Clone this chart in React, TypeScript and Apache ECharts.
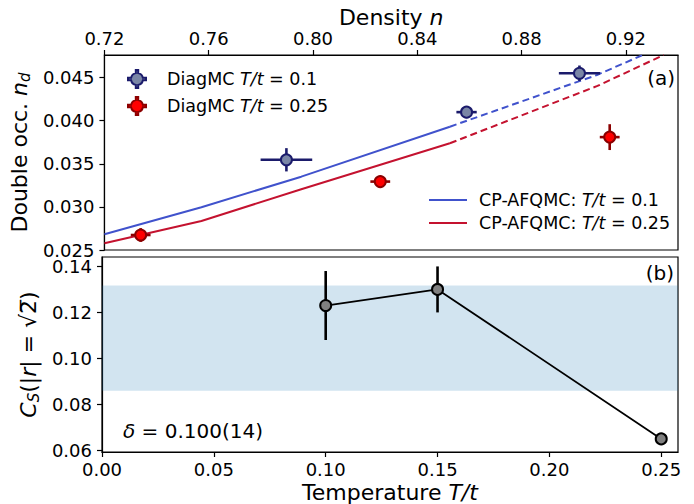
import React, { useEffect, useRef } from 'react';
import * as echarts from 'echarts';

// ---------- data ----------
const densityTicks = [0.72, 0.76, 0.8, 0.84, 0.88, 0.92];
const ndTicks = [0.025, 0.03, 0.035, 0.04, 0.045];
const tempTicks = [0.0, 0.05, 0.1, 0.15, 0.2, 0.25];
const csTicks = [0.06, 0.08, 0.1, 0.12, 0.14];

// DiagMC T/t = 0.1
const diagLowN = [0.7898, 0.8589, 0.9022];
const diagLowNd = [0.03547, 0.041, 0.04551];
const diagLowNErr = [0.0099, 0.0039, 0.0079];
const diagLowNdErr = [0.00135, 0.0007, 0.0009];

// DiagMC T/t = 0.25
const diagHighN = [0.7339, 0.8258, 0.9138];
const diagHighNd = [0.02674, 0.03294, 0.0381];
const diagHighNErr = [0.0038, 0.0038, 0.0038];
const diagHighNdErr = [0.0008, 0.00067, 0.0015];

// CP-AFQMC T/t = 0.1
const cpLowSolidN = [0.72, 0.7572, 0.7955, 0.8525];
const cpLowSolidNd = [0.02682, 0.02996, 0.03351, 0.03931];
const cpLowDashN = [0.8525, 0.9089, 0.9265];
const cpLowDashNd = [0.03931, 0.04531, 0.04763];

// CP-AFQMC T/t = 0.25
const cpHighSolidN = [0.72, 0.7572, 0.7955, 0.8525];
const cpHighSolidNd = [0.02578, 0.02837, 0.03205, 0.03739];
const cpHighDashN = [0.8525, 0.9091, 0.9345];
const cpHighDashNd = [0.03739, 0.04404, 0.04763];

// panel (b)
const temps = [0.1, 0.15, 0.25];
const csValues = [0.123, 0.13, 0.065];
const csErr = [0.015, 0.01, 0.0008];
const bandRange = [0.0859, 0.1317];

// ---------- styles ----------
const FF = 'DejaVu Sans';
const NAVY = '#1b1b6b';
const SLATE = '#7a86a6';
const DARKRED = '#8b0000';
const RED = '#ff0000';
const CP_BLUE = '#4052cc';
const CP_RED = '#c4122f';

const markerIcon =
  'path://M7 3.101 L7 0.5 L9 0.5 L9 3.101 A5 5 0 0 1 12.899 7 L15.5 7 L15.5 9 L12.899 9 A5 5 0 0 1 9 12.899 L9 15.5 L7 15.5 L7 12.899 A5 5 0 0 1 3.101 9 L0.5 9 L0.5 7 L3.101 7 A5 5 0 0 1 7 3.101 Z';
const lineIcon = 'path://M0 0 H38 V2 H0 Z';

function rich(size: number, lh: number, padLeft = 0) {
  const base = { fontFamily: FF, fontSize: size, color: '#000', fontWeight: 'normal', lineHeight: lh };
  return {
    r: { ...base },
    f: { ...base, padding: [0, 0, 0, padLeft] },
    i: { ...base, fontStyle: 'italic' },
    s: {
      fontFamily: FF,
      fontSize: Math.round(size * 0.7),
      color: '#000',
      fontWeight: 'normal',
      fontStyle: 'italic',
      lineHeight: Math.round(size * 0.7),
      verticalAlign: 'bottom',
    },
  };
}

function zip(a: number[], b: number[], c?: number[], d?: number[]) {
  return a.map((v, k) => (c && d ? [v, b[k], c[k], d[k]] : [v, b[k]]));
}

function errRender(color: string, width: number) {
  return (_params: any, api: any) => {
    const x = api.value(0);
    const y = api.value(1);
    const xe = api.value(2);
    const ye = api.value(3);
    const l = api.coord([x - xe, y]);
    const r = api.coord([x + xe, y]);
    const t = api.coord([x, y + ye]);
    const b = api.coord([x, y - ye]);
    return {
      type: 'group',
      children: [
        { type: 'line', shape: { x1: l[0], y1: l[1], x2: r[0], y2: r[1] }, style: { stroke: color, lineWidth: width } },
        { type: 'line', shape: { x1: t[0], y1: t[1], x2: b[0], y2: b[1] }, style: { stroke: color, lineWidth: width } },
      ],
    };
  };
}

const axisCommon = {
  axisLine: { show: true, lineStyle: { color: '#000', width: 1.2 } },
  splitLine: { show: false },
  nameLocation: 'middle' as const,
};

export default function App() {
  const ref = useRef<HTMLDivElement>(null);
  useEffect(() => {
    if (!ref.current) return;
    const chart = echarts.init(ref.current, undefined, { renderer: 'svg' });
    const labelStyle = { fontFamily: FF, fontSize: 18, color: '#000' };
    const tick = (vals: number[]) => ({ show: true, length: 5, lineStyle: { color: '#000', width: 1.2 }, customValues: vals });
    const option: any = {
      animation: false,
      backgroundColor: '#fff',
      title: [
        { text: '(a)', right: 19, top: 68, padding: 0, textStyle: { fontFamily: FF, fontSize: 20, fontWeight: 'normal', color: '#000' } },
        { text: '(b)', right: 20, top: 263, padding: 0, textStyle: { fontFamily: FF, fontSize: 20, fontWeight: 'normal', color: '#000' } },
        {
          text: '{i|δ}{r| = 0.100(14)}',
          left: 123,
          top: 419,
          padding: 0,
          textStyle: { fontWeight: 'normal', rich: rich(20, 24) },
        },
      ],
      grid: [
        { left: 102, right: 16, top: 55, height: 195, show: true, borderColor: '#000', borderWidth: 1.2, backgroundColor: 'transparent' },
        { left: 102, right: 16, top: 257, height: 195, show: true, borderColor: '#000', borderWidth: 1.2, backgroundColor: 'transparent' },
      ],
      legend: [
        {
          left: 127,
          top: 69,
          padding: 0,
          orient: 'vertical',
          itemWidth: 18,
          itemHeight: 18,
          itemGap: 7,
          data: [
            { name: 'DiagMC T/t = 0.1', icon: markerIcon },
            { name: 'DiagMC T/t = 0.25', icon: markerIcon },
          ],
          formatter: (n: string) => '{f|DiagMC }{i|T/t}{r| = ' + n.split('= ')[1] + '}',
          textStyle: { rich: rich(17.5, 21, 16) },
        },
        {
          left: 429,
          top: 191,
          padding: 0,
          orient: 'vertical',
          itemWidth: 38,
          itemHeight: 14,
          itemGap: 5,
          symbolKeepAspect: true,
          itemStyle: { borderWidth: 0 },
          data: [
            { name: 'CP-AFQMC: T/t = 0.1', icon: lineIcon },
            { name: 'CP-AFQMC: T/t = 0.25', icon: lineIcon },
          ],
          formatter: (n: string) => '{f|CP-AFQMC: }{i|T/t}{r| = ' + n.split('= ')[1] + '}',
          textStyle: { rich: rich(17.5, 21, 7) },
        },
      ],
      xAxis: [
        {
          ...axisCommon,
          type: 'value',
          gridIndex: 0,
          position: 'top',
          min: 0.72,
          max: 0.94,
          name: '{r|Density }{i|n}',
          nameGap: 24,
          nameTextStyle: { rich: rich(22, 26) },
          axisTick: tick(densityTicks),
          axisLabel: { ...labelStyle, margin: 8, customValues: densityTicks, formatter: (v: number) => v.toFixed(2) },
        },
        {
          ...axisCommon,
          type: 'value',
          gridIndex: 1,
          position: 'bottom',
          min: 0,
          max: 0.2575,
          name: '{r|Temperature }{i|T/t}',
          nameGap: 27,
          nameTextStyle: { rich: rich(22, 26) },
          axisTick: tick(tempTicks),
          axisLabel: { ...labelStyle, margin: 8, customValues: tempTicks, formatter: (v: number) => v.toFixed(2) },
        },
      ],
      yAxis: [
        {
          ...axisCommon,
          type: 'value',
          gridIndex: 0,
          min: 0.025,
          max: 0.04763,
          name: '{r|Double occ. }{i|n}{s|d}',
          nameGap: 64,
          nameTextStyle: { rich: rich(22, 26) },
          axisTick: tick(ndTicks),
          axisLabel: { ...labelStyle, lineHeight: 14, margin: 10, customValues: ndTicks, formatter: (v: number) => v.toFixed(3) },
        },
        {
          ...axisCommon,
          type: 'value',
          gridIndex: 1,
          min: 0.0593,
          max: 0.1441,
          name: '{i|C}{s|S}{r|(|}{i|r}{r|| = √2\u0305)}',
          nameGap: 56,
          nameTextStyle: { rich: rich(22, 26) },
          axisTick: tick(csTicks),
          axisLabel: { ...labelStyle, lineHeight: 14, margin: 10, customValues: csTicks, formatter: (v: number) => v.toFixed(2) },
        },
      ],
      series: [
        // CP-AFQMC lines
        {
          name: 'CP-AFQMC: T/t = 0.1', type: 'line', xAxisIndex: 0, yAxisIndex: 0, symbol: 'none', z: 2,
          data: zip(cpLowSolidN, cpLowSolidNd), lineStyle: { color: CP_BLUE, width: 2 }, itemStyle: { color: CP_BLUE },
        },
        {
          name: 'cp01dash', type: 'line', xAxisIndex: 0, yAxisIndex: 0, symbol: 'none', z: 2,
          data: zip(cpLowDashN, cpLowDashNd), lineStyle: { color: CP_BLUE, width: 2, type: [7, 4] }, itemStyle: { color: CP_BLUE },
        },
        {
          name: 'CP-AFQMC: T/t = 0.25', type: 'line', xAxisIndex: 0, yAxisIndex: 0, symbol: 'none', z: 2,
          data: zip(cpHighSolidN, cpHighSolidNd), lineStyle: { color: CP_RED, width: 2 }, itemStyle: { color: CP_RED },
        },
        {
          name: 'cp025dash', type: 'line', xAxisIndex: 0, yAxisIndex: 0, symbol: 'none', z: 2,
          data: zip(cpHighDashN, cpHighDashNd), lineStyle: { color: CP_RED, width: 2, type: [7, 4] }, itemStyle: { color: CP_RED },
        },
        // DiagMC error bars
        {
          name: 'errLow', type: 'custom', xAxisIndex: 0, yAxisIndex: 0, z: 3, silent: true,
          renderItem: errRender(NAVY, 2.6), encode: { x: 0, y: 1 },
          data: zip(diagLowN, diagLowNd, diagLowNErr, diagLowNdErr),
        },
        {
          name: 'errHigh', type: 'custom', xAxisIndex: 0, yAxisIndex: 0, z: 3, silent: true,
          renderItem: errRender(DARKRED, 2.6), encode: { x: 0, y: 1 },
          data: zip(diagHighN, diagHighNd, diagHighNErr, diagHighNdErr),
        },
        {
          name: 'DiagMC T/t = 0.1', type: 'scatter', xAxisIndex: 0, yAxisIndex: 0, z: 4,
          symbol: 'circle', symbolSize: 11,
          itemStyle: { color: SLATE, borderColor: NAVY, borderWidth: 2, opacity: 1 },
          data: zip(diagLowN, diagLowNd),
        },
        {
          name: 'DiagMC T/t = 0.25', type: 'scatter', xAxisIndex: 0, yAxisIndex: 0, z: 4,
          symbol: 'circle', symbolSize: 11,
          itemStyle: { color: RED, borderColor: DARKRED, borderWidth: 2, opacity: 1 },
          data: zip(diagHighN, diagHighNd),
        },
        // panel (b)
        {
          name: 'cs', type: 'line', xAxisIndex: 1, yAxisIndex: 1, z: 3,
          symbol: 'circle', symbolSize: 11, showSymbol: true,
          lineStyle: { color: '#000', width: 1.8 },
          itemStyle: { color: '#808080', borderColor: '#000', borderWidth: 2 },
          data: zip(temps, csValues),
          markArea: {
            silent: true,
            itemStyle: { color: 'rgba(31,119,180,0.2)' },
            data: [[{ yAxis: bandRange[0] }, { yAxis: bandRange[1] }]],
          },
        },
        {
          name: 'csErr', type: 'custom', xAxisIndex: 1, yAxisIndex: 1, z: 2, silent: true,
          renderItem: errRender('#000', 2.6), encode: { x: 0, y: 1 },
          data: zip(temps, csValues, temps.map(() => 0), csErr),
        },
      ],
    };
    chart.setOption(option);
    return () => chart.dispose();
  }, []);
  return <div ref={ref} style={{ position: 'absolute', left: 0, top: 0, width: 694, height: 504 }} />;
}
